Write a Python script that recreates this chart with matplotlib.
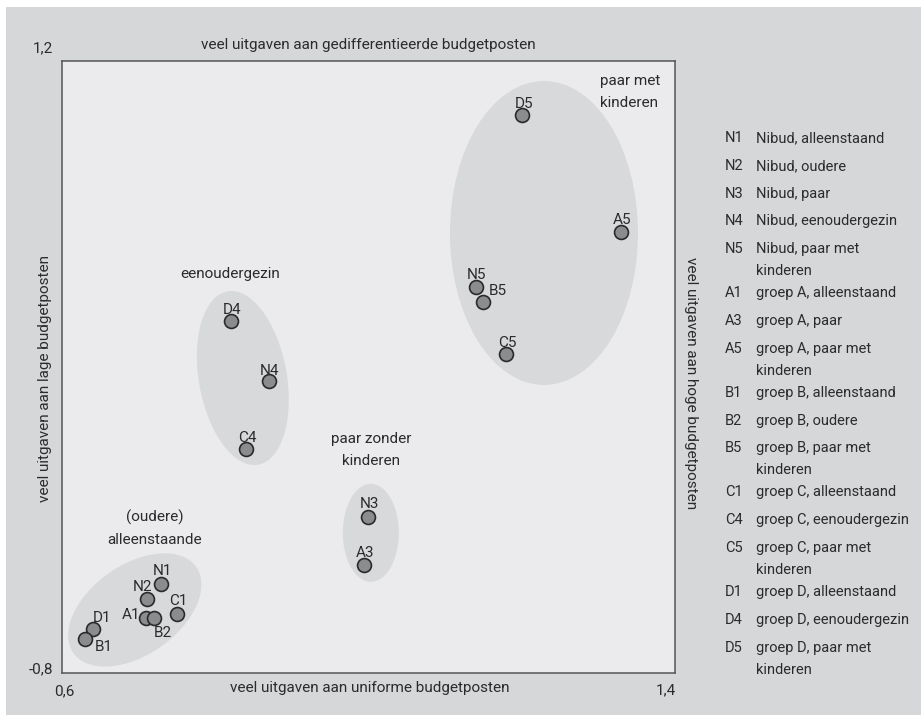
import matplotlib
matplotlib.use("Agg")
import matplotlib.pyplot as plt
from matplotlib.patches import Ellipse, Rectangle
from matplotlib.transforms import ScaledTranslation

plt.rcParams['font.family'] = ['Roboto', 'DejaVu Sans']

# --- data -------------------------------------------------------------
codes = ["D5", "A5", "N5", "B5", "C5",
         "D4", "N4", "C4",
         "N3", "A3",
         "N1", "N2", "A1", "B2", "C1", "D1", "B1"]
x_vals = [1.200, 1.330, 1.140, 1.150, 1.180,
          0.821, 0.870, 0.840,
          0.999, 0.994,
          0.729, 0.711, 0.710, 0.720, 0.750, 0.640, 0.630]
y_vals = [1.022, 0.641, 0.461, 0.412, 0.242,
          0.350, 0.154, -0.068,
          -0.290, -0.447,
          -0.508, -0.558, -0.620, -0.620, -0.607, -0.656, -0.689]

legend_codes = ["N1", "N2", "N3", "N4", "N5", "A1", "A3", "A5", "B1",
                "B2", "B5", "C1", "C4", "C5", "D1", "D4", "D5"]
legend_texts = ["Nibud, alleenstaand", "Nibud, oudere", "Nibud, paar",
                "Nibud, eenoudergezin", "Nibud, paar met\nkinderen",
                "groep A, alleenstaand", "groep A, paar",
                "groep A, paar met\nkinderen", "groep B, alleenstaand",
                "groep B, oudere", "groep B, paar met\nkinderen",
                "groep C, alleenstaand", "groep C, eenoudergezin",
                "groep C, paar met\nkinderen", "groep D, alleenstaand",
                "groep D, eenoudergezin", "groep D, paar met\nkinderen"]

# group ellipses: centre (data), width / height in pixels, angle
ell_cx = [1.229, 0.836, 1.003, 0.695]
ell_cy = [0.638, 0.164, -0.342, -0.594]
ell_w = [188, 176, 56, 150]
ell_h = [304, 88, 98, 90]
ell_ang = [0, 100, 0, 35]

W, H = 921, 715
BG = "#d6d7d9"
PLOT_BG = "#ebebed"
ELL = "#d8d9db"
TXT = "#2b2b2b"


def fp(x, y):
    return x / W, 1 - y / H


fig = plt.figure(figsize=(W / 100, H / 100), dpi=100, facecolor="white")
fig.patches.append(Rectangle((6 / W, 0), 1, 1 - 7 / H, transform=fig.transFigure,
                             facecolor=BG, edgecolor="none", zorder=-10))

ax = fig.add_axes([62 / W, (H - 673) / H, 613 / W, 612 / H])
ax.set_facecolor(PLOT_BG)
ax.set_xlim(0.6, 1.4)
ax.set_ylim(-0.8, 1.2)
ax.set_xticks([])
ax.set_yticks([])
for s in ax.spines.values():
    s.set_color("#555555")
    s.set_linewidth(1.1)

for cx, cy, w, h, a in zip(ell_cx, ell_cy, ell_w, ell_h, ell_ang):
    tr = fig.dpi_scale_trans + ScaledTranslation(cx, cy, ax.transData)
    ax.add_patch(Ellipse((0, 0), w / 100, h / 100, angle=a, transform=tr,
                         facecolor=ELL, edgecolor="none", zorder=1))

ax.scatter(x_vals, y_vals, s=100, facecolor="#8b8c8e", edgecolor="#2a2a2a",
           linewidth=1.2, zorder=3)

# label offsets in pixels (dx, baseline up)
offs = {"D5": (2, 7.5), "A5": (1, 8), "N5": (1, 8), "B5": (14, 7), "C5": (1, 7),
        "D4": (1, 7), "N4": (1, 6), "C4": (1, 7), "N3": (2, 9), "A3": (1, 7.5),
        "N1": (2, 8.5), "N2": (-4, 8), "A1": (-15.5, -1), "B2": (9, -19),
        "C1": (1, 9), "D1": (9, 7), "B1": (19, -11.5)}
for c, x, y in zip(codes, x_vals, y_vals):
    dx, dy = offs[c]
    ax.annotate(c, (x, y), xytext=(dx * 0.72, dy * 0.72), textcoords="offset points",
                ha="center", va="baseline", fontsize=11, color=TXT, zorder=4)

# group names
groups = [("paar met\nkinderen", 600, 85, "left"),
          ("eenoudergezin", 230, 278, "center"),
          ("paar zonder\nkinderen", 371, 443, "center"),
          ("(oudere)\nalleenstaande", 155, 522, "center")]
for t, gx, gy, ha in groups:
    lines = t.split("\n")
    for i, ln in enumerate(lines):
        fig.text(*fp(gx, gy + 22 * i), ln, ha=ha, va="baseline", fontsize=11,
                 color=TXT, zorder=5)

# axis captions and corner values
fig.text(*fp(368.5, 49), "veel uitgaven aan gedifferentieerde budgetposten",
         ha="center", va="baseline", fontsize=11, color=TXT)
fig.text(*fp(370, 692), "veel uitgaven aan uniforme budgetposten",
         ha="center", va="baseline", fontsize=11, color=TXT)
fig.text(*fp(45, 379), "veel uitgaven aan lage budgetposten", rotation=90,
         ha="center", va="center", fontsize=11, color=TXT)
fig.text(*fp(691, 383), "veel uitgaven aan hoge budgetposten", rotation=270,
         ha="center", va="center", fontsize=11, color=TXT)
fig.text(*fp(53, 52), "1,2", ha="right", va="baseline", fontsize=11, color=TXT)
fig.text(*fp(53, 673), "-0,8", ha="right", va="baseline", fontsize=11, color=TXT)
fig.text(*fp(64, 695), "0,6", ha="center", va="baseline", fontsize=11, color=TXT)
fig.text(*fp(666, 694), "1,4", ha="center", va="baseline", fontsize=11, color=TXT)

# legend at right
y = 136 + 6
for c, t in zip(legend_codes, legend_texts):
    lines = t.split("\n")
    fig.text(*fp(725, y), c, ha="left", va="baseline", fontsize=10.5, color=TXT)
    for i, ln in enumerate(lines):
        if i > 0:
            y += 22
        fig.text(*fp(756, y), ln, ha="left", va="baseline", fontsize=10.5, color=TXT)
    y += 22 if len(lines) > 1 else 27.8

fig.savefig("out.png", dpi=100, facecolor=fig.get_facecolor())
